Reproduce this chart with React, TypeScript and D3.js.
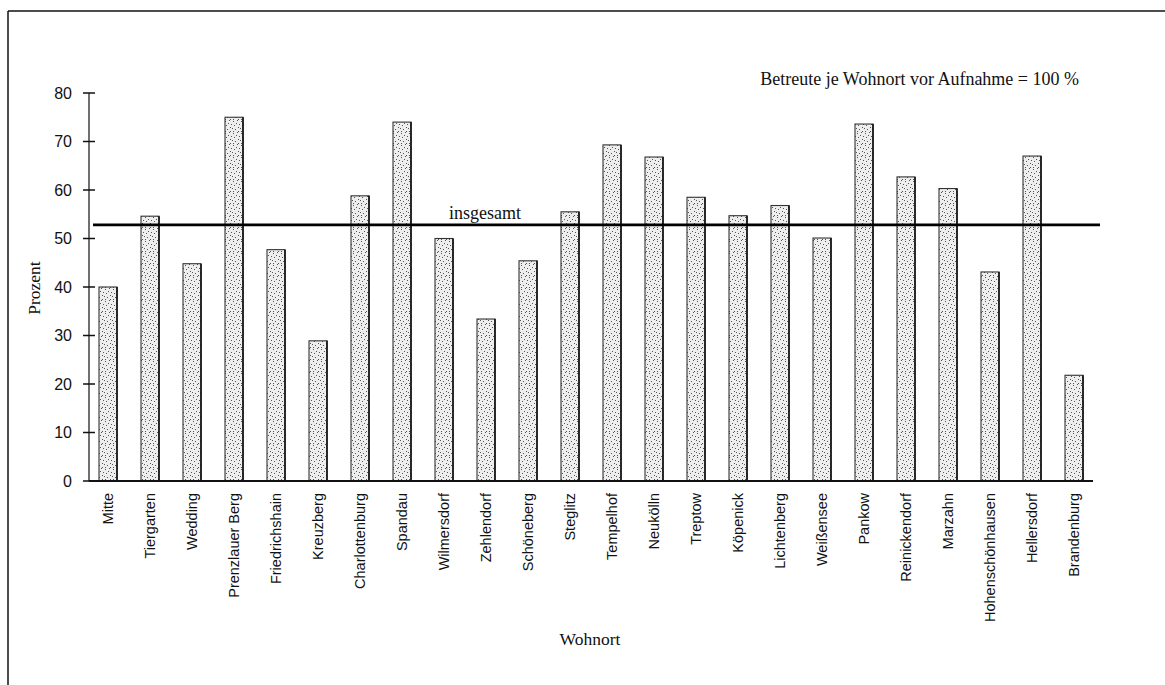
import React from "react";
import * as d3 from "d3";

const categories = [
  "Mitte", "Tiergarten", "Wedding", "Prenzlauer Berg", "Friedrichshain", "Kreuzberg",
  "Charlottenburg", "Spandau", "Wilmersdorf", "Zehlendorf", "Schöneberg", "Steglitz",
  "Tempelhof", "Neukölln", "Treptow", "Köpenick", "Lichtenberg", "Weißensee",
  "Pankow", "Reinickendorf", "Marzahn", "Hohenschönhausen", "Hellersdorf", "Brandenburg",
];
const values = [
  40.0, 54.6, 44.8, 75.0, 47.7, 28.9,
  58.8, 74.0, 50.0, 33.4, 45.4, 55.5,
  69.3, 66.8, 58.5, 54.7, 56.8, 50.1,
  73.6, 62.7, 60.3, 43.1, 67.0, 21.8,
];
const overall = 52.8;
const yTicks = [0, 10, 20, 30, 40, 50, 60, 70, 80];
const overallLabel = "insgesamt";
const noteText = "Betreute je Wohnort vor Aufnahme = 100 %";
const xTitle = "Wohnort";
const yTitle = "Prozent";

const W = 1165;
const H = 685;
const serif = "'Liberation Serif', 'Times New Roman', serif";
const sans = "'Liberation Sans', Arial, sans-serif";

// fixed stipple dot positions for the bar texture pattern
const dots: [number, number][] = [
  [1, 1], [4, 3], [2, 5], [6, 7], [0, 8], [5, 0], [3, 9], [7, 4], [1, 11], [6, 11],
];

export default function App() {
  const x = d3.scaleBand<string>().domain(categories).range([87, 1095]).padding(0);
  const y = d3.scaleLinear().domain([0, 80]).range([481, 93]);
  const barW = 18;
  const axisX = 89;
  const axisEnd = 1093;

  return (
    <svg
      width={W}
      height={H}
      style={{ position: "absolute", left: 0, top: 0, background: "#fff" }}
    >
      <defs>
        <pattern id="stip" width={8} height={12} patternUnits="userSpaceOnUse">
          <rect width={8} height={12} fill="#eeeeee" />
          {dots.map((d, i) => (
            <rect key={i} x={d[0]} y={d[1]} width={1} height={1} fill="#555" />
          ))}
        </pattern>
      </defs>

      {/* frame */}
      <line x1={8} y1={11} x2={W} y2={11} stroke="#111" strokeWidth={1.5} />
      <line x1={8} y1={11} x2={8} y2={H} stroke="#111" strokeWidth={1.5} />

      {/* note */}
      <text x={1079} y={85} textAnchor="end" fontFamily={serif} fontSize={18} fill="#111">
        {noteText}
      </text>

      {/* y axis */}
      <line x1={axisX} y1={y(80)} x2={axisX} y2={y(0)} stroke="#222" strokeWidth={1.3} />
      {yTicks.map((t) => (
        <g key={t}>
          <line x1={axisX - 6} x2={axisX + 6} y1={y(t)} y2={y(t)} stroke="#111" strokeWidth={1.5} />
          <text
            x={72}
            y={y(t)}
            textAnchor="end"
            dominantBaseline="central"
            fontFamily={sans}
            fontSize={16}
            fill="#111"
          >
            {t}
          </text>
        </g>
      ))}
      <text
        transform={`translate(40, 288) rotate(-90)`}
        textAnchor="middle"
        fontFamily={serif}
        fontSize={17.5}
        fill="#111"
      >
        {yTitle}
      </text>

      {/* bars */}
      {categories.map((c, i) => {
        const cx = (x(c) as number) + x.bandwidth() / 2;
        const top = y(values[i]);
        return (
          <g key={c}>
            <rect
              x={cx - barW / 2}
              y={top}
              width={barW}
              height={y(0) - top}
              fill="url(#stip)"
              stroke="#333"
              strokeWidth={1.1}
            />
            <line
              x1={cx + barW / 2}
              x2={cx + barW / 2}
              y1={top}
              y2={y(0)}
              stroke="#111"
              strokeWidth={1.6}
            />
          </g>
        );
      })}

      {/* x axis */}
      <line x1={axisX} y1={y(0)} x2={axisEnd} y2={y(0)} stroke="#111" strokeWidth={1.8} />
      {categories.map((c) => {
        const cx = (x(c) as number) + x.bandwidth() / 2;
        return (
          <text
            key={c}
            transform={`translate(${cx + 5}, 493) rotate(-90)`}
            textAnchor="end"
            fontFamily={sans}
            fontSize={14.5}
            fill="#111"
          >
            {c}
          </text>
        );
      })}

      {/* overall line */}
      <line x1={93} x2={1100} y1={y(overall)} y2={y(overall)} stroke="#000" strokeWidth={2.6} />
      <text x={485} y={y(overall) - 6} textAnchor="middle" fontFamily={serif} fontSize={18} fill="#111">
        {overallLabel}
      </text>

      <text x={590} y={645} textAnchor="middle" fontFamily={serif} fontSize={17.5} fill="#111">
        {xTitle}
      </text>
    </svg>
  );
}
